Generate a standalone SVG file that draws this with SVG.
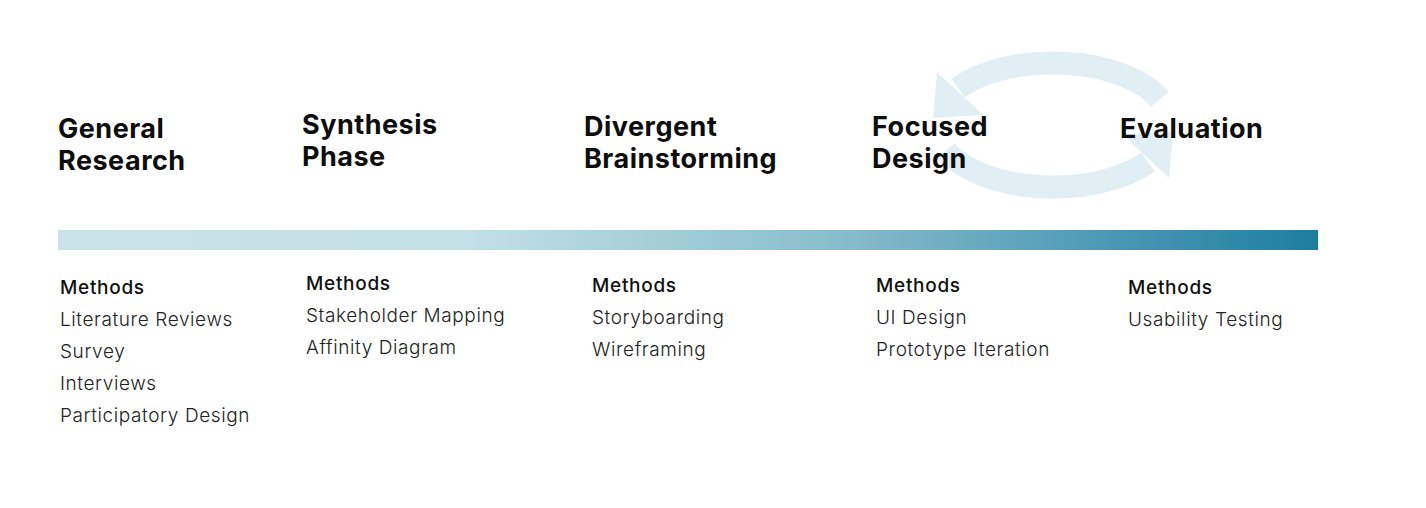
<svg xmlns="http://www.w3.org/2000/svg" width="1426" height="508" viewBox="0 0 1426 508">
<defs>
<linearGradient id="bar" x1="0" y1="0" x2="1" y2="0">
<stop offset="0" stop-color="#c8e3e9"/>
<stop offset="0.32" stop-color="#c3e0e6"/>
<stop offset="0.6" stop-color="#8dbfcf"/>
<stop offset="1" stop-color="#1d7ea0"/>
</linearGradient>
<style>
.h{font-family:Inter,"Noto Sans","Liberation Sans",sans-serif;font-weight:700;font-size:27px;letter-spacing:0.5px;fill:#0d0d0d}
.m{font-family:Inter,"Noto Sans","Liberation Sans",sans-serif;font-weight:500;font-size:19px;letter-spacing:0.7px;fill:#111}
.i{font-family:Inter,"Noto Sans","Liberation Sans",sans-serif;font-weight:300;font-size:19px;letter-spacing:0.6px;fill:#222}
.band{fill:none;stroke:#a8cfe0;stroke-opacity:0.35;stroke-width:23}
.head{fill:#a8cfe0;fill-opacity:0.35}
</style>
</defs>
<rect width="1426" height="508" fill="#fff"/>
<rect id="timeline" x="58" y="230" width="1260" height="20" fill="url(#bar)"/>
<g id="connectors">
<path class="band" d="M1160,99 A118,62 0 0 0 958,88"/>
<polygon class="head" points="937,72 983,115 933,118"/>
<path class="band" d="M946,151 A118,62 0 0 0 1148,162"/>
<polygon class="head" points="1169,178 1123,135 1173,132"/>
</g>
<g id="general-research">
<text class="h" x="58" y="138">General</text>
<text class="h" x="58" y="170">Research</text>
<text class="m" x="60" y="294">Methods</text>
<text class="i" x="60" y="326">Literature Reviews</text>
<text class="i" x="60" y="358">Survey</text>
<text class="i" x="60" y="390">Interviews</text>
<text class="i" x="60" y="422">Participatory Design</text>
</g>
<g id="synthesis-phase">
<text class="h" x="302" y="134">Synthesis</text>
<text class="h" x="302" y="166">Phase</text>
<text class="m" x="306" y="290">Methods</text>
<text class="i" x="306" y="322">Stakeholder Mapping</text>
<text class="i" x="306" y="354">Affinity Diagram</text>
</g>
<g id="divergent-brainstorming">
<text class="h" x="584" y="136">Divergent</text>
<text class="h" x="584" y="168">Brainstorming</text>
<text class="m" x="592" y="292">Methods</text>
<text class="i" x="592" y="324">Storyboarding</text>
<text class="i" x="592" y="356">Wireframing</text>
</g>
<g id="focused-design">
<text class="h" x="872" y="136">Focused</text>
<text class="h" x="872" y="168">Design</text>
<text class="m" x="876" y="292">Methods</text>
<text class="i" x="876" y="324">UI Design</text>
<text class="i" x="876" y="356">Prototype Iteration</text>
</g>
<g id="evaluation">
<text class="h" x="1120" y="138">Evaluation</text>
<text class="m" x="1128" y="294">Methods</text>
<text class="i" x="1128" y="326">Usability Testing</text>
</g>
</svg>
